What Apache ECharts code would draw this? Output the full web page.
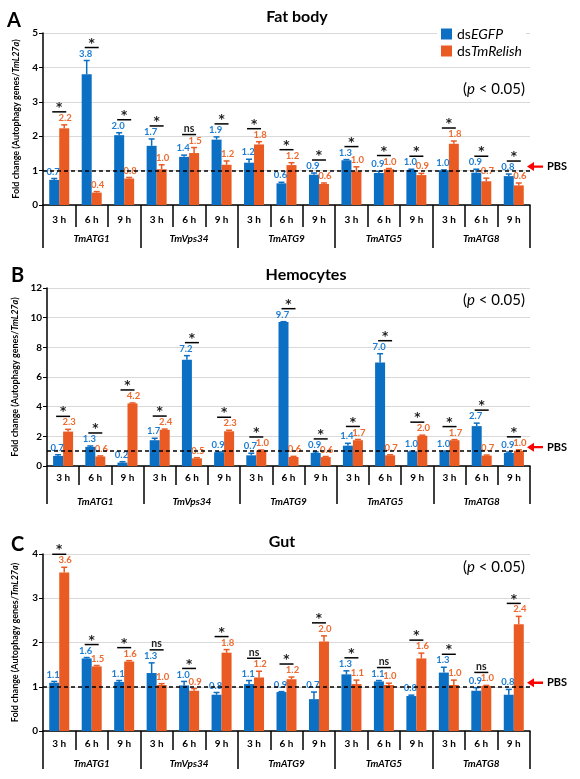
<!DOCTYPE html>
<html><head><meta charset="utf-8">
<script src="https://cdn.jsdelivr.net/npm/echarts@6.0.0/dist/echarts.min.js"></script>
<style>html,body{margin:0;padding:0;background:#fff}#c{width:580px;height:779px}</style>
</head><body><div id="c"></div>
<script>
// ---------- DATA ----------
const timeCats = ['3 h','6 h','9 h','3 h','6 h','9 h','3 h','6 h','9 h','3 h','6 h','9 h','3 h','6 h','9 h'];
const genes = ['TmATG1','TmVps34','TmATG9','TmATG5','TmATG8'];
const seriesNames = ['dsEGFP','dsTmRelish'];
const panelTitles = ['Fat body','Hemocytes','Gut'];
const panelLetters = ['A','B','C'];
const yTicksFat = [0,1,2,3,4,5];
const yTicksHemo = [0,2,4,6,8,10,12];
const yTicksGut = [0,1,2,3,4];

// Fat body
const fatEGFP      = [0.73,3.80,2.03, 1.72,1.40,1.90, 1.23,0.63,0.88, 1.30,0.93,1.02, 1.01,0.94,0.84];
const fatEGFPErr   = [0.04,0.40,0.07, 0.20,0.05,0.08, 0.10,0.03,0.05, 0.02,0.05,0.02, 0.01,0.10,0.06];
const fatRelish    = [2.23,0.36,0.77, 1.04,1.51,1.17, 1.76,1.16,0.61, 0.98,1.04,0.87, 1.78,0.69,0.57];
const fatRelishErr = [0.10,0.03,0.03, 0.13,0.16,0.11, 0.08,0.07,0.03, 0.13,0.02,0.05, 0.08,0.09,0.07];
const fatSig       = ['*','*','*', '*','ns','*', '*','*','*', '*','*','*', '*','*','*'];

// Hemocytes
const hemoEGFP      = [0.68,1.29,0.23, 1.74,7.17,0.93, 0.72,9.70,0.88, 1.37,6.97,0.99, 1.00,2.69,0.88];
const hemoEGFPErr   = [0.08,0.06,0.06, 0.13,0.27,0.02, 0.14,0.03,0.07, 0.16,0.60,0.01, 0.01,0.20,0.06];
const hemoRelish    = [2.32,0.64,4.22, 2.44,0.52,2.34, 1.04,0.61,0.60, 1.74,0.72,2.04, 1.74,0.70,1.03];
const hemoRelishErr = [0.15,0.04,0.03, 0.05,0.04,0.07, 0.04,0.04,0.04, 0.05,0.04,0.04, 0.04,0.04,0.06];
const hemoSig       = ['*','*','*', '*','*','*', '*','*','*', '*','*','*', '*','*','*'];

// Gut
const gutEGFP      = [1.09,1.64,1.11, 1.31,1.03,0.82, 1.06,0.88,0.72, 1.28,1.12,0.79, 1.32,0.91,0.82];
const gutEGFPErr   = [0.03,0.02,0.03, 0.23,0.09,0.05, 0.08,0.01,0.16, 0.08,0.02,0.02, 0.12,0.07,0.12];
const gutRelish    = [3.58,1.46,1.57, 1.04,0.91,1.77, 1.21,1.17,2.02, 1.06,1.04,1.64, 1.04,1.02,2.41];
const gutRelishErr = [0.12,0.02,0.02, 0.03,0.05,0.07, 0.14,0.05,0.13, 0.09,0.04,0.12, 0.11,0.01,0.18];
const gutSig       = ['*','*','*', 'ns','*','*', 'ns','*','*', '*','ns','*', '*','ns','*'];

// ---------- STYLE / LAYOUT ----------
const BLUE = '#0B6FC3', ORANGE = '#E95B23';
const BLUE_T = '#1C7DD3', ORANGE_T = '#EE6A2E';
const FONT = 'Lato';
const panels = [
  {e:fatEGFP, ee:fatEGFPErr, r:fatRelish, re:fatRelishErr, sig:fatSig, ticks:yTicksFat},
  {e:hemoEGFP, ee:hemoEGFPErr, r:hemoRelish, re:hemoRelishErr, sig:hemoSig, ticks:yTicksHemo},
  {e:gutEGFP, ee:gutEGFPErr, r:gutRelish, re:gutRelishErr, sig:gutSig, ticks:yTicksGut}
];
const layouts = [
  {grid:{left:43,right:50,top:33,height:172}, nameGap:22, tTick:22, gTick:43, tMargin:10, gMargin:29,
   title:[297,17], letter:[7,21], pval:89},
  {grid:{left:47,right:50,top:288,height:178}, nameGap:27, tTick:19, gTick:38, tMargin:7, gMargin:31,
   title:[306,275], letter:[11,276], pval:300},
  {grid:{left:43,right:50,top:554,height:177}, nameGap:23, tTick:19, gTick:38, tMargin:8, gMargin:28,
   title:[282,542], letter:[11,545], pval:567}
];

function errRender(vals, errs, color, tcolor, dx) {
  return function (params, api) {
    const i = params.dataIndex;
    const base = api.coord([i, vals[i]]);
    const top = api.coord([i, vals[i] + errs[i]]);
    const x = base[0] + dx;
    return {type:'group', children:[
      {type:'line', shape:{x1:x, y1:base[1], x2:x, y2:top[1]}, style:{stroke:color, lineWidth:1.5}},
      {type:'line', shape:{x1:x-3, y1:top[1], x2:x+3, y2:top[1]}, style:{stroke:color, lineWidth:1.5}},
      {type:'text', x: x + (dx < 0 ? -1 : 1), y: top[1] - 2,
       style:{text: vals[i].toFixed(1), fill: tcolor, fontFamily: FONT, fontWeight:'bold', fontSize: 9.5,
              align:'center', verticalAlign:'bottom'}}
    ]};
  };
}
function sigRender(tops, sig) {
  return function (params, api) {
    const i = params.dataIndex;
    const p = api.coord([i, tops[i]]);
    const y = p[1] - 13;
    const star = sig[i] === '*';
    return {type:'group', children:[
      {type:'line', shape:{x1:p[0]-7, y1:y, x2:p[0]+7, y2:y}, style:{stroke:'#000', lineWidth:1.5}},
      {type:'text', x:p[0], y: star ? y - 4 : y - 6,
       style:{text: sig[i], fill:'#222', fontFamily: star ? 'DejaVu Sans' : FONT, fontWeight:'bold', fontSize: star ? 12 : 10.5,
              align:'center', verticalAlign:'middle'}}
    ]};
  };
}

const option = {animation:false, grid:[], xAxis:[], yAxis:[], series:[], graphic:[],
  legend:{data:seriesNames, orient:'vertical', left:437, top:25, itemWidth:11, itemHeight:11, itemGap:3,
    icon:'rect', backgroundColor:'#fff', padding:[2,4],
    formatter: n => '{a|ds}{b|' + n.slice(2) + '}',
    textStyle:{rich:{a:{fontSize:14, fontFamily:FONT, color:'#000'}, b:{fontSize:14, fontFamily:FONT, fontStyle:'italic', color:'#000'}}}}
};

panels.forEach((P, g) => {
  const L = layouts[g];
  option.grid.push(Object.assign({outerBoundsMode:'none', containLabel:false}, L.grid));
  const tickStyle = {color:'#000', width:1.5};
  option.xAxis.push({gridIndex:g, type:'category', data:timeCats, position:'bottom',
    axisLine:{show:true, lineStyle:tickStyle}, axisTick:{show:true, length:L.tTick, lineStyle:tickStyle},
    axisLabel:{interval:0, margin:L.tMargin, fontSize:10, fontWeight:'bold', color:'#000', fontFamily:FONT},
    splitLine:{show:false}});
  option.xAxis.push({gridIndex:g, type:'category', data:genes, position:'bottom', offset:0,
    axisLine:{show:false}, axisTick:{show:true, length:L.gTick, lineStyle:tickStyle},
    axisLabel:{interval:0, margin:L.gMargin, fontSize:10, fontWeight:'bold', fontStyle:'italic', color:'#000', fontFamily:FONT},
    splitLine:{show:false}});
  const tk = P.ticks;
  option.yAxis.push({gridIndex:g, type:'value', min:tk[0], max:tk[tk.length-1], interval:tk[1]-tk[0],
    axisLine:{show:true, lineStyle:tickStyle}, axisTick:{show:true, length:4, lineStyle:{color:'#000'}},
    axisLabel:{fontSize:10, fontWeight:'bold', color:'#000', fontFamily:FONT, margin:5},
    splitLine:{show:true, lineStyle:{color:'#D9D9D9', width:1}},
    name:'Fold change (Autophagy genes/{i|TmL27a})', nameLocation:'middle', nameGap:L.nameGap,
    nameTextStyle:{fontSize:9, fontWeight:'bold', color:'#000', fontFamily:FONT,
      rich:{i:{fontSize:9, fontWeight:'bold', fontStyle:'italic', color:'#000', fontFamily:FONT}}}});

  const xi = g*2;
  option.series.push({name:seriesNames[0], type:'bar', xAxisIndex:xi, yAxisIndex:g, data:P.e,
    barWidth:10, barGap:'0%', itemStyle:{color:BLUE}});
  option.series.push({name:seriesNames[1], type:'bar', xAxisIndex:xi, yAxisIndex:g, data:P.r,
    barWidth:10, barGap:'0%', itemStyle:{color:ORANGE},
    markLine:{silent:true, symbol:'none', label:{show:false}, data:[{yAxis:1}],
      lineStyle:{type:[4,3], color:'#000', width:1.5}}});
  option.series.push({type:'custom', xAxisIndex:xi, yAxisIndex:g, z:3,
    data:P.e.map((v,i)=>[i, v + P.ee[i]]), renderItem: errRender(P.e, P.ee, BLUE, BLUE_T, -5)});
  option.series.push({type:'custom', xAxisIndex:xi, yAxisIndex:g, z:3,
    data:P.r.map((v,i)=>[i, v + P.re[i]]), renderItem: errRender(P.r, P.re, ORANGE, ORANGE_T, 5)});
  const tops = P.e.map((v,i)=>Math.max(v + P.ee[i], P.r[i] + P.re[i]));
  option.series.push({type:'custom', xAxisIndex:xi, yAxisIndex:g, z:3,
    data:tops.map((v,i)=>[i, v]), renderItem: sigRender(tops, P.sig)});

  option.graphic.push({type:'text', x:L.title[0], y:L.title[1],
    style:{text:panelTitles[g], fontFamily:FONT, fontWeight:'bold', fontSize:16, fill:'#000', align:'center', verticalAlign:'middle'}});
  option.graphic.push({type:'text', x:L.letter[0], y:L.letter[1],
    style:{text:panelLetters[g], fontFamily:FONT, fontWeight:'bold', fontSize:20, fill:'#000', align:'left', verticalAlign:'middle'}});
  option.graphic.push({type:'text', x:525, y:L.pval,
    style:{text:'{a|(}{b|p}{a| < 0.05)}', align:'right', verticalAlign:'middle',
      rich:{a:{fontSize:15, fontFamily:FONT, color:'#000'}, b:{fontSize:15, fontFamily:FONT, fontStyle:'italic', color:'#000'}}}});
});

const chart = echarts.init(document.getElementById('c'), null, {renderer:'canvas'});
chart.setOption(option);

// PBS arrows aligned to value 1 of each panel
const extra = [];
panels.forEach((P, g) => {
  const y = chart.convertToPixel({yAxisIndex:g}, 1) - 4;
  extra.push({type:'polygon', shape:{points:[[527,y],[534,y-4.5],[534,y-1.2],[543,y-1.2],[543,y+1.2],[534,y+1.2],[534,y+4.5]]},
    style:{fill:'#FF0000'}});
  extra.push({type:'text', x:547, y:y, style:{text:'PBS', fontFamily:FONT, fontWeight:'bold', fontSize:11, fill:'#000', align:'left', verticalAlign:'middle'}});
});
chart.setOption({graphic: option.graphic.concat(extra)});
</script>
</body></html>
